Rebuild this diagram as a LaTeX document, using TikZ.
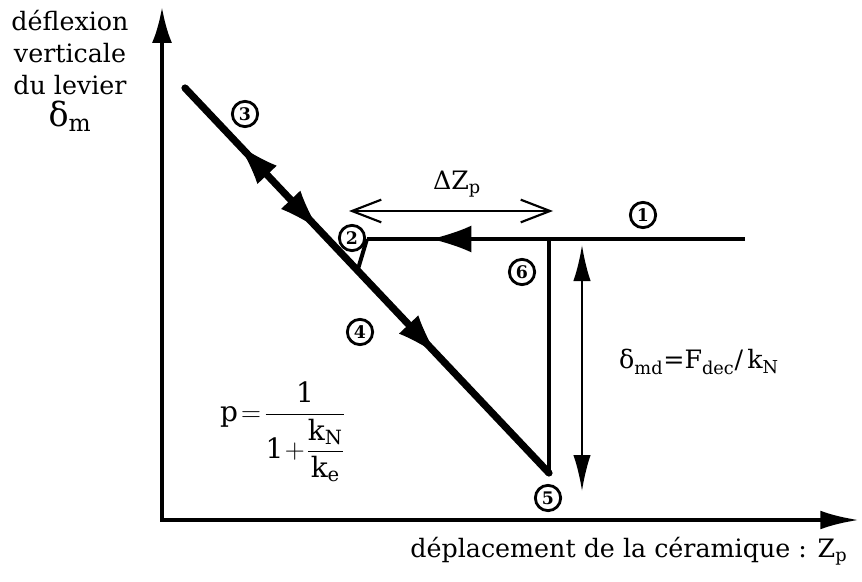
\documentclass[tikz,border=0pt]{standalone}
\usepackage{amsmath}
\usepackage{fontspec}
\setmainfont{DejaVu Serif}
\usetikzlibrary{arrows.meta, calc, decorations.markings}

\tikzset{
  head/.tip={Latex[length=30pt,width=20pt]}
}

\begin{document}
\begin{tikzpicture}[
  x=0.75pt, y=-0.75pt,
  line join=miter,
  axis/.style={line width=3pt, {Latex[length=27pt,width=15pt]}-{Latex[length=29pt,width=14pt]}},
  track/.style={line width=3.6pt},
  dim/.style={line width=1.6pt},
  num/.style={circle, draw, line width=2.1pt, inner sep=0.5pt, minimum size=19pt,
    font=\fontsize{13}{13}\bfseries},
  lbl/.style={font=\fontsize{19}{24}\selectfont, align=center}
]
  \useasboundingbox (0,0) rectangle (862,581);

  % axes
  \coordinate (O) at (162,520);
  \coordinate (ytip) at (162,7);
  \coordinate (xtip) at (859,520);
  \draw[axis] (ytip) -- (O) -- (xtip);

  % points of the cycle
  \coordinate (p1) at (745,239);
  \coordinate (p2) at (367,239);
  \coordinate (p3) at (185,88);
  \coordinate (p5) at (549,473);
  \coordinate (p6) at (549,239);
  \coordinate (j2) at ($(p3)!0.474!(p5)$);

  % approach, contact, retract
  \draw[track, postaction={decorate},
    decoration={markings, mark=at position 0.83 with {\arrow[line width=1pt]{head}}}] (p1) -- (p2);
  \draw[line width=3pt] (p2) -- (j2);
  \draw[line width=5.4pt, line cap=round, postaction={decorate},
    decoration={markings,
      mark=at position 0.15 with {\arrowreversed[line width=1pt]{head}},
      mark=at position 0.366 with {\arrow[line width=1pt]{head}},
      mark=at position 0.69 with {\arrow[line width=1pt]{head}}}] (p3) -- (p5);
  \draw[track] (p6) -- (p5);

  % step numbers
  \node[num] (n1) at (643,215) {1};
  \node[num] (n2) at (352,238) {2};
  \node[num] (n3) at (245,114) {3};
  \node[num] (n4) at (360,332) {4};
  \node[num] (n5) at (548,498) {5};
  \node[num] (n6) at (522,272) {6};

  % dimensions
  \coordinate (dzl) at (349,211);
  \coordinate (dzr) at (553,211);
  \draw[dim, {Straight Barb[length=22pt,width=17pt]}-{Straight Barb[length=22pt,width=17pt]}] (dzl) -- (dzr);
  \node[lbl] (dz) at (457,184) {ΔZ$_{\mathrm{p}}$};

  \coordinate (dmt) at (582,245);
  \coordinate (dmb) at (582,491);
  \draw[dim, {Latex[length=27pt,width=13pt]}-{Latex[length=27pt,width=13pt]}] (dmt) -- (dmb);
  \node[lbl] (dmd) at (699,362) {δ$_{\mathrm{md}}$=F$_{\mathrm{dec}}$/\,k$_{\mathrm{N}}$};

  \node[lbl, font=\fontsize{21}{24}\selectfont] (pf) at (283,432) {$\mathrm{p}\!=\!\dfrac{\mathrm{1}}{\mathrm{1}\!+\!\dfrac{\mathrm{k}_{\mathrm{N}}}{\mathrm{k}_{\mathrm{e}}}}$};

  % axis labels
  \node[lbl, anchor=north] (ylab) at (70,6) {déflexion\\verticale\\du levier\\{\fontsize{25}{24}\selectfont δ$_{\mathrm{m}}$}};
  \node[lbl, anchor=east] (xlab) at (852,551) {déplacement de la céramique : Z$_{\mathrm{p}}$};
\end{tikzpicture}
\end{document}
